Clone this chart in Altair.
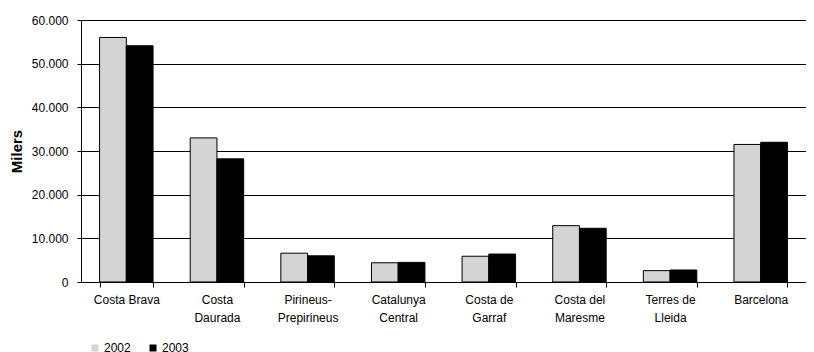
import json
import altair as alt
import pandas as pd

categories = ["Costa Brava", "Costa Daurada", "Pirineus-Prepirineus", "Catalunya Central",
              "Costa de Garraf", "Costa del Maresme", "Terres de Lleida", "Barcelona"]
label_lines = [["Costa Brava"], ["Costa", "Daurada"], ["Pirineus-", "Prepirineus"],
               ["Catalunya", "Central"], ["Costa de", "Garraf"], ["Costa del", "Maresme"],
               ["Terres de", "Lleida"], ["Barcelona"]]
years = ["2002", "2003"]
values_2002 = [56000, 33000, 6600, 4400, 5900, 12900, 2600, 31500]
values_2003 = [54100, 28200, 6000, 4500, 6400, 12300, 2750, 32000]
y_ticks = [0, 10000, 20000, 30000, 40000, 50000, 60000]

rows = []
for c, a, b in zip(categories, values_2002, values_2003):
    rows.append({"region": c, "year": "2002", "value": a})
    rows.append({"region": c, "year": "2003", "value": b})
df = pd.DataFrame(rows)

label_expr = "datum.value"
for c, lines in reversed(list(zip(categories, label_lines))):
    label_expr = f"datum.value === {json.dumps(c)} ? {json.dumps(lines)} : ({label_expr})"

font = "Liberation Sans"

chart = alt.Chart(df).mark_bar(stroke="#000000", strokeWidth=1).encode(
    x=alt.X("region:N", sort=categories,
            scale=alt.Scale(paddingInner=0.41, paddingOuter=0.205),
            axis=alt.Axis(title=None, labelAngle=0, labelExpr=label_expr, tickBand="extent",
                          tickSize=5, tickColor="#000000", domainColor="#000000",
                          labelFontSize=12, labelLineHeight=18, labelPadding=7,
                          labelColor="#000000", grid=False, labelFont=font)),
    xOffset=alt.XOffset("year:N", sort=years, scale=alt.Scale(paddingInner=0, paddingOuter=0)),
    y=alt.Y("value:Q", scale=alt.Scale(domain=[0, 60000], nice=False),
            axis=alt.Axis(title="Milers", values=y_ticks,
                          labelExpr="replace(format(datum.value, ','), ',', '.')",
                          gridColor="#000000", gridWidth=1, gridOpacity=1,
                          tickColor="#000000", tickSize=4, domainColor="#000000",
                          labelFontSize=12, labelColor="#000000", labelFont=font,
                          labelPadding=9,
                          titleFont=font, titleFontSize=15, titleFontWeight="bold",
                          titleColor="#000000", titlePadding=7)),
    color=alt.Color("year:N", scale=alt.Scale(domain=years, range=["#d4d4d4", "#000000"]),
                    legend=alt.Legend(title=None, orient="none", legendX=8, legendY=322,
                                      direction="horizontal", symbolType="square",
                                      symbolSize=49, symbolStrokeWidth=0, labelFontSize=12,
                                      labelFont=font, labelColor="#000000", labelOffset=3,
                                      columnPadding=16)),
).properties(
    width=725, height=262,
    autosize=alt.AutoSizeParams(type="none"),
    padding={"left": 73, "top": 12, "right": 0, "bottom": 70},
).configure_view(stroke=None)

chart.save("out.html", embed_options={"renderer": "svg", "actions": False})
